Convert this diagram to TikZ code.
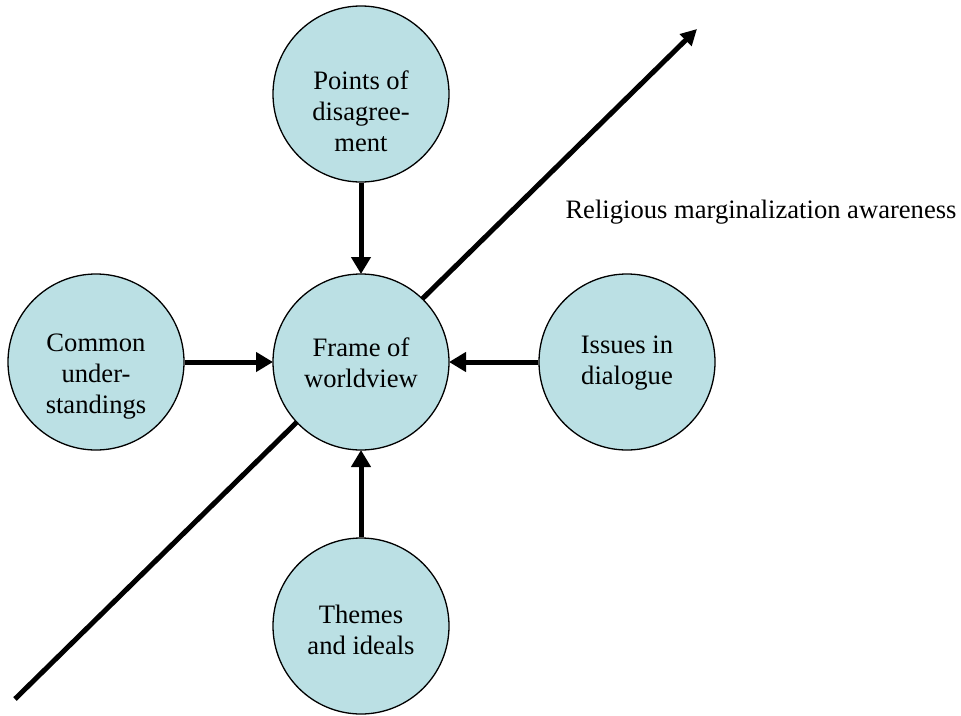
\documentclass[tikz,border=0pt]{standalone}
\usepackage{fontspec}
\setmainfont{Liberation Serif}
\usetikzlibrary{arrows.meta}
\definecolor{bubfill}{RGB}{187,224,228}
\begin{document}
\begin{tikzpicture}[x=1pt,y=-1pt,
  bub/.style={circle,draw=black,line width=1.3pt,fill=bubfill,minimum size=176pt,inner sep=0pt,outer sep=0pt},
  txt/.style={align=center,font=\fontsize{26.6}{31}\selectfont,inner sep=0pt},
  arr/.style={line width=5pt,-{Triangle[length=17pt,width=19pt]},shorten <=0.6pt},
  diag/.style={line width=5pt,-{Triangle[length=16pt,width=16pt]}}]
\useasboundingbox (0,0) rectangle (961,715);
% diagonal axis, behind the circles
\coordinate (dstart) at (15,699);
\coordinate (dend) at (697,29);
\draw[diag] (dstart) -- (dend);
% circles
\node[bub] (ctr) at (361,362) {};
\node[bub] (top) at (361,94) {};
\node[bub] (left) at (96,362) {};
\node[bub] (right) at (627,362) {};
\node[bub] (bot) at (361,626) {};
% texts
\node[txt] (ctrtext) at (361,363) {Frame of\\worldview};
\node[txt] (toptext) at (361,111) {Points of\\disagree-\\ment};
\node[txt] (lefttext) at (96,377) {Common\\under-\\standings};
\node[txt] (righttext) at (627,363) {Issues in\\dialogue};
\node[txt] (bottext) at (361,630) {Themes\\and ideals};
\node[txt] (axislabel) at (761,212) {Religious marginalization awareness};
% arrows
\draw[arr] (top) -- (ctr);
\draw[arr] (left) -- (ctr);
\draw[arr] (right) -- (ctr);
\draw[arr] (bot) -- (ctr);
\end{tikzpicture}
\end{document}
